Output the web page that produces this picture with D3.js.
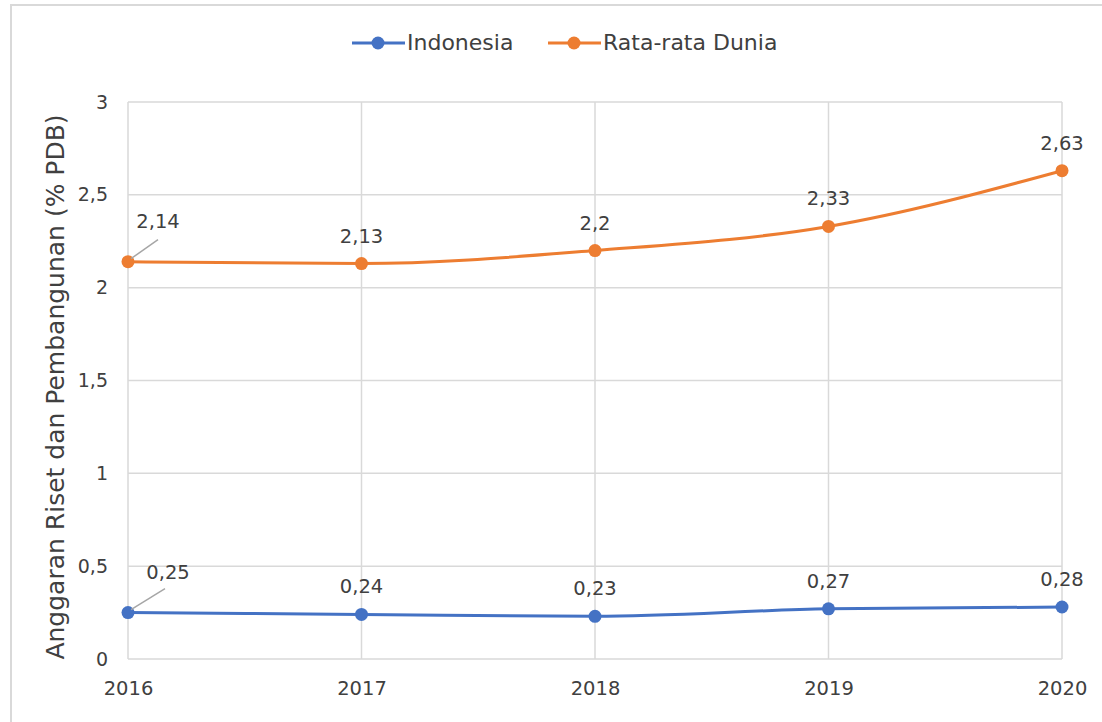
<!DOCTYPE html>
<html><head><meta charset="utf-8">
<script src="https://cdn.jsdelivr.net/npm/d3@7"></script>
<style>
html,body{margin:0;padding:0;background:#fff;}
svg text{font-family:"DejaVu Sans",sans-serif;fill:#404040;}
</style></head>
<body>
<svg id="chart" width="1102" height="722"></svg>
<script>
const years = ["2016","2017","2018","2019","2020"];
const indonesia = [0.25, 0.24, 0.23, 0.27, 0.28];
const dunia = [2.14, 2.13, 2.2, 2.33, 2.63];
const indonesiaLabels = ["0,25","0,24","0,23","0,27","0,28"];
const duniaLabels = ["2,14","2,13","2,2","2,33","2,63"];
const yTicks = [0, 0.5, 1, 1.5, 2, 2.5, 3];
const yTickLabels = ["0","0,5","1","1,5","2","2,5","3"];
const seriesNames = ["Indonesia","Rata-rata Dunia"];
const colors = ["#4472C4","#ED7D31"];

const svg = d3.select("#chart");
svg.append("rect").attr("x",11).attr("y",5).attr("width",1120).attr("height",740)
  .attr("fill","none").attr("stroke","#d9d9d9").attr("stroke-width",2);

const L=128, R=1062, T=102, B=659;
const x = d3.scalePoint().domain(years).range([L,R]);
const y = d3.scaleLinear().domain([0,3]).range([B,T]);

const g = svg.append("g");
g.selectAll(".hg").data(yTicks).join("line")
  .attr("x1",L).attr("x2",R).attr("y1",d=>y(d)).attr("y2",d=>y(d))
  .attr("stroke","#d9d9d9").attr("stroke-width",1.5);
g.selectAll(".vg").data(years).join("line")
  .attr("x1",d=>x(d)).attr("x2",d=>x(d)).attr("y1",T).attr("y2",B)
  .attr("stroke","#d9d9d9").attr("stroke-width",1.5);

const yAxis = d3.axisLeft(y).tickValues(yTicks).tickFormat((d,i)=>yTickLabels[i]).tickSize(0).tickPadding(20);
const ya = svg.append("g").attr("transform",`translate(${L},0)`).call(yAxis);
ya.select(".domain").remove();
ya.selectAll("text").style("font-size","19px").attr("fill","#404040").style("font-family","DejaVu Sans");

const xAxis = d3.axisBottom(x).tickSize(0).tickPadding(22);
const xa = svg.append("g").attr("transform",`translate(0,${B})`).call(xAxis);
xa.select(".domain").remove();
xa.selectAll("text").style("font-size","19.5px").attr("fill","#404040").style("font-family","DejaVu Sans");

svg.append("text").attr("transform",`translate(64,387) rotate(-90)`)
  .attr("text-anchor","middle").style("font-size","25px").text("Anggaran Riset dan Pembangunan (% PDB)");

const line = d3.line().x((d,i)=>x(years[i])).y(d=>y(d)).curve(d3.curveMonotoneX);
const allSeries = [indonesia, dunia];
const allLabels = [indonesiaLabels, duniaLabels];
allSeries.forEach((s,k)=>{
  svg.append("path").datum(s).attr("d",line).attr("fill","none")
    .attr("stroke",colors[k]).attr("stroke-width",3);
  svg.selectAll(".pt"+k).data(s).join("circle")
    .attr("cx",(d,i)=>x(years[i])).attr("cy",d=>y(d)).attr("r",6.5).attr("fill",colors[k]);
  svg.selectAll(".lb"+k).data(s).join("text")
    .attr("x",(d,i)=> i===0 ? x(years[i])+ (k===0?40:30) : x(years[i]))
    .attr("y",(d,i)=> i===0 ? y(d)-34 : y(d)-21)
    .attr("text-anchor","middle").style("font-size","19.5px")
    .text((d,i)=>allLabels[k][i]);
  svg.append("line").attr("x1",x(years[0])+3).attr("y1",y(s[0])-3)
    .attr("x2",x(years[0])+ (k===0?37:30)).attr("y2",y(s[0])-(k===0?24:22))
    .attr("stroke","#a6a6a6").attr("stroke-width",1.5);
});

const legendItems = [{x:352, name:seriesNames[0], c:colors[0]},{x:548, name:seriesNames[1], c:colors[1]}];
legendItems.forEach(it=>{
  const lg = svg.append("g").attr("transform",`translate(${it.x},43)`);
  lg.append("line").attr("x1",0).attr("x2",53).attr("stroke",it.c).attr("stroke-width",3);
  lg.append("circle").attr("cx",26).attr("r",6.5).attr("fill",it.c);
  lg.append("text").attr("x",55).attr("y",7).style("font-size","22px").text(it.name);
});
</script>
</body></html>
